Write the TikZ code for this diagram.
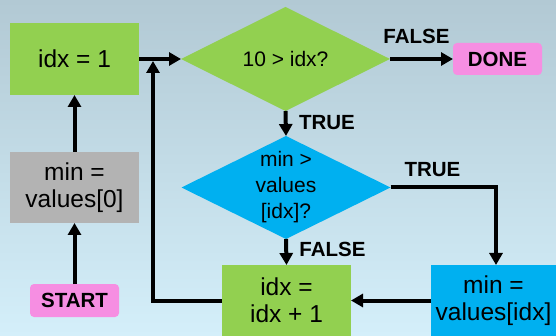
\documentclass[tikz,border=0pt]{standalone}
\usepackage{fontspec}
\setmainfont{Liberation Sans}
\usetikzlibrary{arrows.meta,shapes.geometric}
\definecolor{boxgreen}{HTML}{92D050}
\definecolor{boxblue}{HTML}{00B0F0}
\definecolor{boxgray}{HTML}{B3B3B3}
\definecolor{boxpink}{HTML}{F68EE2}
\definecolor{bgtop}{HTML}{B2C9D4}
\definecolor{bgbot}{HTML}{D4EFFA}
\begin{document}
\begin{tikzpicture}[x=1pt,y=-1pt,
  every node/.style={inner sep=0pt, outer sep=0pt, text=black},
  procbox/.style={rectangle, anchor=center, align=center, font=\fontsize{24.5}{27}\selectfont},
  termbox/.style={rectangle, rounded corners=4pt, fill=boxpink, font=\fontsize{20.5}{23}\bfseries\selectfont},
  decision/.style={diamond, minimum width=209pt, minimum height=104pt},
  dtext/.style={align=center, font=\fontsize{21}{26}\selectfont},
  flowlabel/.style={font=\fontsize{20.5}{23}\bfseries\selectfont},
  flow/.style={line width=4pt, -{Triangle[length=12pt,width=13pt]}}]
  % background
  \shade[top color=bgtop, bottom color=bgbot] (0,0) rectangle (556,336);
  \useasboundingbox (0,0) rectangle (556,336);

  % process boxes
  \node[procbox, fill=boxgreen, minimum width=129pt, minimum height=72pt] (init) at (74.5,59) {idx = 1};
  \node[procbox, fill=boxgray, minimum width=129pt, minimum height=71pt] (setmin) at (74.5,187.5) {min =\\values[0]};
  \node[procbox, fill=boxgreen, minimum width=129pt, minimum height=71pt] (incr) at (286.5,300.5) {idx =\\idx + 1};
  \node[procbox, fill=boxblue, minimum width=125pt, minimum height=71pt] (newmin) at (493.5,300.5) {min =\\values[idx]};

  % terminals
  \node[termbox, minimum width=89pt, minimum height=33pt] (start) at (74.5,300.5) {START};
  \node[termbox, minimum width=89pt, minimum height=32pt] (done) at (497.5,59) {DONE};

  % decisions
  \node[decision, fill=boxgreen] (loop) at (285.5,59) {};
  \node[dtext] at (loop) {10 > idx?};
  \node[decision, fill=boxblue, minimum height=103pt] (cmp) at (286,187.5) {};
  \node[dtext] at (cmp) {min >\\values\\{[idx]?}};

  % connectors
  \coordinate (loopin) at (153,61);
  \draw[flow] (start) -- (setmin);
  \draw[flow] (setmin) -- (init);
  \draw[flow] (init.east) -- (loop.west);
  \draw[flow] (loop.east) -- (done.west);
  \draw[flow] (loop.south) -- (cmp.north);
  \draw[flow] (cmp.south) -- (incr.north);
  \draw[flow] (cmp.east) -| ([xshift=2.5pt]newmin.north);
  \draw[flow] (newmin.west) -- (incr.east);
  \draw[flow] (incr.west) -| (loopin);

  % branch labels
  \node[flowlabel] at (416.5,36) {FALSE};
  \node[flowlabel] at (327,123) {TRUE};
  \node[flowlabel] at (432.5,170) {TRUE};
  \node[flowlabel] at (332.5,249) {FALSE};
\end{tikzpicture}
\end{document}
